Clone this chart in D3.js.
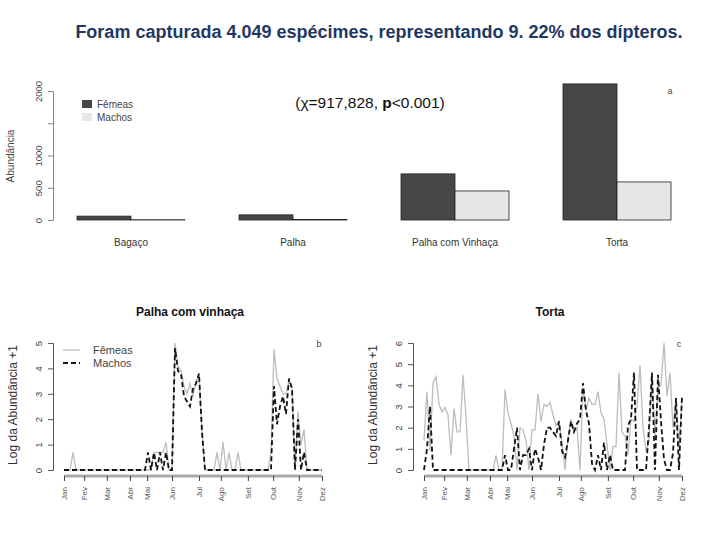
<!DOCTYPE html>
<html>
<head>
<meta charset="utf-8">
<script src="https://cdn.jsdelivr.net/npm/d3@7"></script>
<style>
body { margin: 0; background: #fff; }
svg { font-family: "Liberation Sans", Arial, sans-serif; }
</style>
</head>
<body>
<svg width="720" height="540"></svg>
<script>
// abundancia total por substrato
var locais = ["Bagaço", "Palha", "Palha com Vinhaça", "Torta"];
var femeas = [60, 80, 715, 2110];
var machos = [5, 8, 450, 590];
var yTicksBar = [0, 500, 1000, 1500, 2000];

// meses (posicao no indice das coletas)
var meses = ["Jan", "Fev", "Mar", "Abr", "Mai", "Jun", "Jul", "Ago", "Set", "Out", "Nov", "Dez"];
var mesPos = [0, 6.7, 14.3, 22, 27.7, 36, 45, 52.3, 61.3, 69.7, 78.3, 86];

// log(abundancia + 1) por coleta - palha com vinhaca
var pcvFemeas = [
  0, 0, 0, 0.69, 0, 0, 0, 0, 0, 0,
  0, 0, 0, 0, 0, 0, 0, 0, 0, 0,
  0, 0, 0, 0, 0, 0, 0, 0, 0, 0,
  0.69, 0.69, 0.69, 0.69, 1.1, 0, 0, 5.0, 4.1, 3.9,
  3.3, 3.0, 3.4, 2.9, 3.5, 3.7, 1.5, 0, 0, 0,
  0, 0.69, 0, 1.1, 0, 0.69, 0, 0, 0.69, 0,
  0, 0, 0, 0, 0, 0, 0, 0, 0, 0.69,
  4.75, 3.6, 3.3, 3.0, 3.0, 3.5, 3.3, 0, 2.3, 1.0,
  1.6, 0, 0, 0, 0, 0, 0
];
var pcvMachos = [
  0, 0, 0, 0, 0, 0, 0, 0, 0, 0,
  0, 0, 0, 0, 0, 0, 0, 0, 0, 0,
  0, 0, 0, 0, 0, 0, 0, 0, 0.69, 0,
  0.69, 0, 0.69, 0, 0.69, 0, 0, 4.8, 3.9, 3.8,
  2.9, 2.7, 2.5, 3.2, 3.4, 3.8, 1.5, 0, 0, 0,
  0, 0, 0, 0, 0, 0, 0, 0, 0, 0,
  0, 0, 0, 0, 0, 0, 0, 0, 0, 0,
  3.3, 1.8, 2.5, 2.9, 2.2, 3.6, 3.2, 0, 2.0, 0,
  0.7, 0, 0, 0, 0, 0, 0
];

// log(abundancia + 1) por coleta - torta
var torFemeas = [
  1.4, 3.7, 0.9, 4.1, 4.4, 3.1, 2.75, 2.95, 2.6, 0.7,
  2.9, 1.8, 1.8, 4.5, 2.5, 0, 0, 0, 0, 0,
  0, 0, 0, 0, 0.69, 0, 0, 3.8, 2.7, 2.2,
  1.6, 0, 2.0, 1.9, 1.4, 0, 1.9, 1.9, 3.6, 2.3,
  3.1, 3.0, 3.2, 2.6, 2.1, 2.3, 1.3, 0, 1.5, 2.4,
  1.8, 2.0, 0, 3.9, 2.8, 3.4, 3.1, 3.1, 3.7, 2.7,
  2.4, 1.2, 0, 1.1, 1.1, 4.6, 1.8, 1.6, 0.7, 2.4,
  2.3, 3.0, 4.95, 2.0, 0.9, 1.4, 4.5, 1.6, 3.9, 4.0,
  6.0, 3.5, 4.6, 2.0, 3.3, 1.0, 3.4
];
var torMachos = [
  0, 1.0, 3.0, 0, 0, 0, 0, 0, 0, 0,
  0, 0, 0, 0, 0, 0, 0, 0, 0, 0,
  0, 0, 0, 0, 0, 0, 0, 0.7, 0, 0,
  1.0, 2.0, 0, 0.7, 0.7, 1.0, 0, 1.0, 0.6, 0,
  1.2, 2.0, 2.0, 1.8, 1.6, 2.3, 0.9, 0.6, 1.4, 2.3,
  1.8, 2.2, 2.4, 4.1, 2.8, 2.2, 0.3, 0, 0.7, 0,
  1.3, 0, 0.7, 0, 0, 0, 0, 0, 2.1, 2.4,
  4.6, 0, 0, 0, 0, 2.0, 4.6, 0, 4.5, 2.3,
  0.5, 0, 0, 0.8, 3.4, 0, 3.5
];

var svg = d3.select("svg");
var corFem = "#474747", corMac = "#e6e6e6";

// titulo
svg.append("text")
    .attr("x", 379).attr("y", 38)
    .attr("text-anchor", "middle")
    .style("font-size", "18px").style("font-weight", "bold")
    .style("fill", "#1f3864")
    .text("Foram capturada 4.049 espécimes, representando 9. 22% dos dípteros.");

// ---------- grafico de barras ----------
var xb = d3.scaleLinear().domain([0, 12]).range([23, 671]);
var yb = d3.scaleLinear().domain([0, 2000]).range([220, 91]);

var grupos = svg.append("g").selectAll("g")
    .data(locais)
    .enter().append("g");

grupos.append("rect")
    .attr("x", function(d, i) { return xb(1 + 3 * i); })
    .attr("width", function(d, i) { return xb(2 + 3 * i) - xb(1 + 3 * i); })
    .attr("y", function(d, i) { return yb(femeas[i]); })
    .attr("height", function(d, i) { return yb(0) - yb(femeas[i]); })
    .attr("fill", corFem).attr("stroke", "#222").attr("stroke-width", 0.8);

grupos.append("rect")
    .attr("x", function(d, i) { return xb(2 + 3 * i); })
    .attr("width", function(d, i) { return xb(3 + 3 * i) - xb(2 + 3 * i); })
    .attr("y", function(d, i) { return yb(machos[i]); })
    .attr("height", function(d, i) { return yb(0) - yb(machos[i]); })
    .attr("fill", corMac).attr("stroke", "#222").attr("stroke-width", 0.8);

grupos.append("text")
    .attr("x", function(d, i) { return xb(2 + 3 * i); })
    .attr("y", 246)
    .attr("text-anchor", "middle")
    .style("font-size", "10px").style("fill", "#333")
    .text(function(d) { return d; });

var yAxisB = svg.append("g")
    .attr("transform", "translate(53,0)")
    .call(d3.axisLeft(yb).tickValues(yTicksBar).tickSize(5)
        .tickFormat(function(d) { return d === 1500 ? "" : d; }));
styleAxis(yAxisB, "#888", 9.5);

svg.append("text")
    .attr("transform", "translate(14,156) rotate(-90)")
    .attr("text-anchor", "middle")
    .style("font-size", "10px").style("fill", "#444")
    .text("Abundância");

// legenda barras
var legB = svg.append("g").attr("transform", "translate(82,100)");
legB.append("rect").attr("width", 10).attr("height", 8).attr("fill", corFem);
legB.append("rect").attr("y", 13).attr("width", 10).attr("height", 8).attr("fill", corMac);
legB.append("text").attr("x", 15).attr("y", 7.5).style("font-size", "10px").style("fill", "#444").text("Fêmeas");
legB.append("text").attr("x", 15).attr("y", 20.5).style("font-size", "10px").style("fill", "#444").text("Machos");

svg.append("text").attr("x", 670).attr("y", 94)
    .attr("text-anchor", "middle").style("font-size", "9px").style("fill", "#444").text("a");

var chi = svg.append("text").attr("x", 370).attr("y", 108)
    .attr("text-anchor", "middle").style("font-size", "15.5px").style("fill", "#111");
chi.append("tspan").text("(χ=917,828, ");
chi.append("tspan").style("font-weight", "bold").text("p");
chi.append("tspan").text("<0.001)");

// ---------- series temporais ----------
linhas({ axisX: 53, x0: 64, x1: 322, ymax: 5, fem: pcvFemeas, mac: pcvMachos,
    titulo: "Palha com vinhaça", letra: "b", letraX: 319, legenda: true });
linhas({ axisX: 413, x0: 424, x1: 682, ymax: 6, fem: torFemeas, mac: torMachos,
    titulo: "Torta", letra: "c", letraX: 679, legenda: false });

function linhas(o) {
    var g = svg.append("g");
    var x = d3.scaleLinear().domain([0, 86]).range([o.x0, o.x1]);
    var y = d3.scaleLinear().domain([0, o.ymax]).range([470, 343]);

    var ya = g.append("g")
        .attr("transform", "translate(" + o.axisX + ",0)")
        .call(d3.axisLeft(y).ticks(o.ymax).tickSize(5));
    styleAxis(ya, "#555", 9.5);

    g.append("text")
        .attr("transform", "translate(" + (o.axisX - 36) + ",405) rotate(-90)")
        .attr("text-anchor", "middle")
        .style("font-size", "12px").style("fill", "#333")
        .text("Log da Abundância +1");

    // eixo x cinza espesso
    g.append("line")
        .attr("x1", x(0)).attr("x2", x(86)).attr("y1", 476).attr("y2", 476)
        .attr("stroke", "#aaa").attr("stroke-width", 3);
    var xa = g.append("g")
        .attr("transform", "translate(0,476)")
        .call(d3.axisBottom(x).tickValues(mesPos).tickSize(5)
            .tickFormat(function(d, i) { return meses[i]; }));
    xa.select(".domain").remove();
    xa.selectAll("line").attr("stroke", "#444");
    xa.selectAll("text")
        .attr("transform", "translate(0,11) rotate(-90)")
        .attr("x", 0).attr("y", 0).attr("dy", "0.35em")
        .attr("text-anchor", "end")
        .style("font-size", "8px").style("fill", "#555");

    var line = d3.line()
        .x(function(d, i) { return x(i); })
        .y(function(d) { return y(d); });

    g.append("path").datum(o.fem)
        .attr("d", line).attr("fill", "none")
        .attr("stroke", "#bdbdbd").attr("stroke-width", 1.3);
    g.append("path").datum(o.mac)
        .attr("d", line).attr("fill", "none")
        .attr("stroke", "#111").attr("stroke-width", 1.8)
        .attr("stroke-dasharray", "5,3");

    g.append("text")
        .attr("x", (o.x0 + o.x1) / 2 - 3).attr("y", 316)
        .attr("text-anchor", "middle")
        .style("font-size", "12px").style("font-weight", "bold").style("fill", "#111")
        .text(o.titulo);

    g.append("text").attr("x", o.letraX).attr("y", 347)
        .attr("text-anchor", "middle").style("font-size", "9px").style("fill", "#444")
        .text(o.letra);

    if (o.legenda) {
        var lg = g.append("g").attr("transform", "translate(63,350)");
        lg.append("line").attr("x1", 0).attr("x2", 17).attr("y1", 0).attr("y2", 0)
            .attr("stroke", "#bdbdbd").attr("stroke-width", 1.3);
        lg.append("line").attr("x1", 0).attr("x2", 17).attr("y1", 13).attr("y2", 13)
            .attr("stroke", "#111").attr("stroke-width", 1.8).attr("stroke-dasharray", "5,3");
        lg.append("text").attr("x", 30).attr("y", 4).style("font-size", "11px").style("fill", "#444").text("Fêmeas");
        lg.append("text").attr("x", 30).attr("y", 17).style("font-size", "11px").style("fill", "#444").text("Machos");
    }
}

function styleAxis(a, cor, fs) {
    a.select(".domain").attr("stroke", cor);
    a.selectAll(".tick line").attr("stroke", cor);
    a.selectAll("text")
        .attr("x", 0).attr("dy", 0)
        .attr("transform", "translate(-11,0) rotate(-90)")
        .attr("text-anchor", "middle")
        .style("font-size", fs + "px").style("fill", "#444");
}
</script>
</body>
</html>
